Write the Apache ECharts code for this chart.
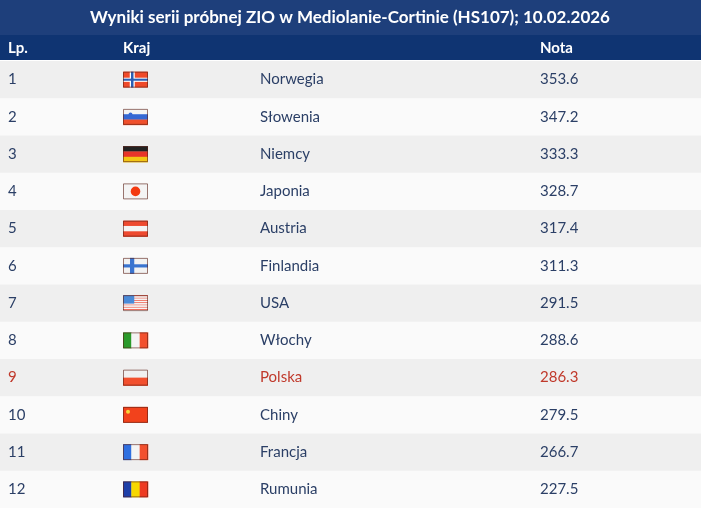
<!DOCTYPE html>
<html><head><meta charset="utf-8">
<script src="https://cdn.jsdelivr.net/npm/echarts@6/dist/echarts.min.js"></script>
<style>html,body{margin:0;padding:0;background:#fff}#c{width:701px;height:508px}</style>
</head><body><div id="c"></div>
<script>
const title = 'Wyniki serii próbnej ZIO w Mediolanie-Cortinie (HS107); 10.02.2026';
const headers = ['Lp.', 'Kraj', 'Nota'];
const ranks = [1,2,3,4,5,6,7,8,9,10,11,12];
const countries = ['Norwegia','Słowenia','Niemcy','Japonia','Austria','Finlandia','USA','Włochy','Polska','Chiny','Francja','Rumunia'];
const scores = [353.6,347.2,333.3,328.7,317.4,311.3,291.5,288.6,286.3,279.5,266.7,227.5];
const codes = ['NOR','SLO','GER','JPN','AUT','FIN','USA','ITA','POL','CHN','FRA','ROU'];

const FLAGS = {
  NOR:{type:'crossN', c:['#ef4a2a','#ffffff','#2c5fb4']},
  FIN:{type:'cross', c:['#f2f2f2','#3a74d0']},
  SLO:{type:'h', c:['#f4f4f4','#3568d4','#f0502c'], dot:'#3568d4'},
  GER:{type:'h', c:['#222222','#e8352a','#f3c614']},
  AUT:{type:'h', c:['#ee4a30','#f4f4f4','#ee4a30']},
  POL:{type:'h', c:['#f0f0f0','#f2502e']},
  JPN:{type:'circle', c:['#f4f4f4','#f33a10']},
  USA:{type:'usa', c:['#ef6a5a','#f6f6f6','#4a8ad8']},
  ITA:{type:'v', c:['#2a9a2a','#f4f4f4','#f2502e']},
  FRA:{type:'v', c:['#2f6fe0','#f4f4f4','#f2502e']},
  ROU:{type:'v', c:['#1e3fa8','#f7d800','#ee3a22']},
  CHN:{type:'chn', c:['#f2421c','#f7d63a']}
};
const TXT = '#2b3f66', RED = '#c0392b', HEAD='#0f3472', TITLE='#1e3f7b';

function flagEls(code, x, y, w, h){
  const f = FLAGS[code], els=[];
  const R=(x1,y1,w1,h1,fill)=>els.push({type:'rect',shape:{x:x1,y:y1,width:w1,height:h1},style:{fill}});
  if(f.type==='h'){const n=f.c.length;f.c.forEach((c,i)=>R(x,y+h*i/n,w,h/n+0.3,c));
    if(f.dot) els.push({type:'circle',shape:{cx:x+w*0.3,cy:y+h*0.35,r:2},style:{fill:f.dot}});}
  else if(f.type==='v'){const n=f.c.length;f.c.forEach((c,i)=>R(x+w*i/n,y,w/n+0.3,h,c));}
  else if(f.type==='crossN'){R(x,y,w,h,f.c[0]);R(x+w*0.27,y,w*0.2,h,f.c[1]);R(x,y+h*0.38,w,h*0.26,f.c[1]);
    R(x+w*0.32,y,w*0.1,h,f.c[2]);R(x,y+h*0.44,w,h*0.13,f.c[2]);}
  else if(f.type==='cross'){R(x,y,w,h,f.c[0]);R(x+w*0.28,y,w*0.17,h,f.c[1]);R(x,y+h*0.4,w,h*0.2,f.c[1]);}
  else if(f.type==='circle'){R(x,y,w,h,f.c[0]);els.push({type:'circle',shape:{cx:x+w/2,cy:y+h/2,r:h*0.3},style:{fill:f.c[1]}});}
  else if(f.type==='usa'){for(let i=0;i<7;i++)R(x,y+h*i/7*1,w,h/14+0.2,f.c[0]);
    for(let i=0;i<7;i++)R(x,y+h*(2*i+1)/14,w,h/14+0.2,f.c[1]);R(x,y,w*0.45,h*0.53,f.c[2]);}
  else if(f.type==='chn'){R(x,y,w,h,f.c[0]);els.push({type:'circle',shape:{cx:x+w*0.2,cy:y+h*0.3,r:2},style:{fill:f.c[1]}});}
  els.push({type:'rect',shape:{x:x+0.5,y:y+0.5,width:w-1,height:h-1},style:{fill:'none',stroke:'rgba(90,30,20,0.6)',lineWidth:1}});
  return els;
}

const chart = echarts.init(document.getElementById('c'));
const data = ranks.map((r,i)=>[0,i]);
const font = 'Lato';
chart.setOption({
  animation:false,
  graphic:[
    {type:'rect',shape:{x:0,y:0,width:701,height:35},style:{fill:TITLE}},
    {type:'rect',shape:{x:0,y:35,width:701,height:25},style:{fill:HEAD}},
    {type:'text',x:350,y:18,style:{text:title,fill:'#fff',font:'bold 17px '+font,align:'center',verticalAlign:'middle'}},
    {type:'text',x:8,y:48,style:{text:headers[0],fill:'#fff',font:'bold 15px '+font,verticalAlign:'middle'}},
    {type:'text',x:123,y:48,style:{text:headers[1],fill:'#fff',font:'bold 15px '+font,verticalAlign:'middle'}},
    {type:'text',x:540,y:48,style:{text:headers[2],fill:'#fff',font:'bold 15px '+font,verticalAlign:'middle'}}
  ],
  grid:{left:0,right:0,top:61,bottom:-4},
  xAxis:{type:'value',min:0,max:701,show:false},
  yAxis:{type:'category',data:countries,inverse:true,show:false},
  series:[{
    type:'custom',
    data:data,
    renderItem:(params,api)=>{
      const i=params.dataIndex;
      const c=api.coord([0,i]);
      const bh=api.size([0,1])[1];
      const y0=c[1]-bh/2, cy=c[1];
      const col = countries[i]==='Polska'?RED:TXT;
      const ts=(t,x)=>({type:'text',x:x,y:cy,style:{text:String(t),fill:col,font:'15px '+font,verticalAlign:'middle'}});
      return {type:'group',children:[
        {type:'rect',shape:{x:0,y:Math.max(y0,60),width:701,height:bh+0.5},style:{fill:i%2===0?'#efefef':'#fafafa'}},
        ts(ranks[i],8), ts(countries[i],260), ts(scores[i].toFixed(1),540),
        ...flagEls(codes[i],123,cy-8,25,16)
      ]};
    }
  }]
});
</script></body></html>
